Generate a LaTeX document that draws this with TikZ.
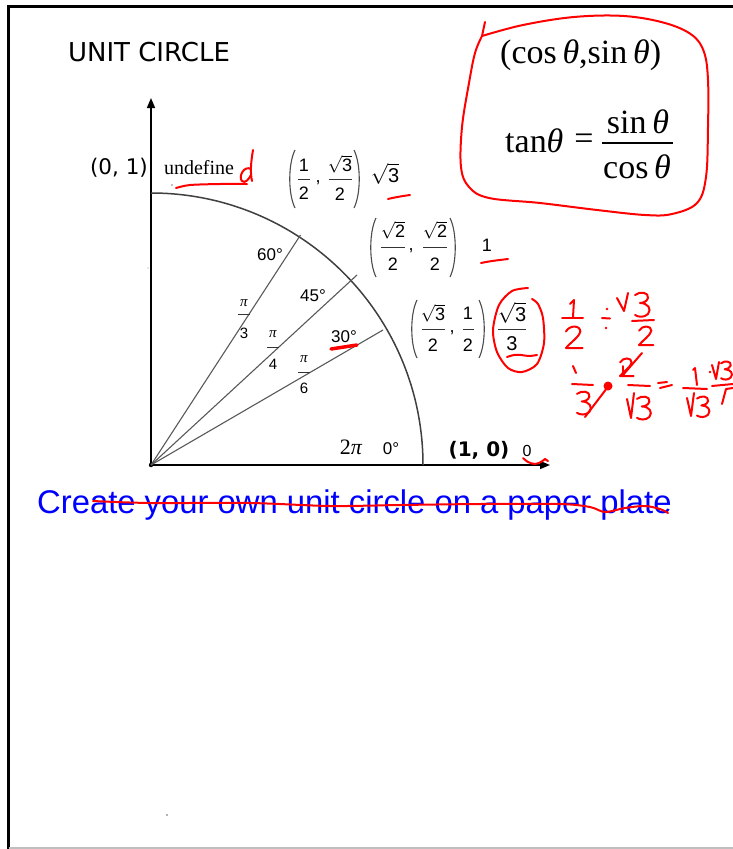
\documentclass[tikz,border=0pt]{standalone}
\usepackage{amsmath}
\usepackage{fontspec}
\setmainfont{Liberation Serif}
\newfontfamily\dvs{DejaVu Sans}
\newfontfamily\ari{Liberation Sans}
\usetikzlibrary{arrows.meta}
\newcommand\fs[1]{\fontsize{#1}{#1}\selectfont}
\newcommand\rt[1]{$\sqrt{\mbox{#1}}$}
\newcommand\pii{{\rmfamily\itshape π}}
% fraction: name, x, ybar, halfwidth, ynum, yden, num, den
\newcommand\ufr[8]{%
  \node[fr] (#1n) at (#2,#5) {#7};
  \node[fr] (#1d) at (#2,#6) {#8};
  \draw[frbar] (#2-#4,#3) -- (#2+#4,#3);}
\newcommand\lpar[3]{\draw[par] (#1+3,#2) .. controls (#1-4,#2+14) and (#1-4,#3-14) .. (#1+3,#3);}
\newcommand\rpar[3]{\draw[par] (#1-3,#2) .. controls (#1+4,#2+14) and (#1+4,#3-14) .. (#1-3,#3);}
% handwritten digits, top-left at (#1,#2), scale #3
\newcommand\hthree[3]{\begin{scope}[shift={(#1,#2)},scale=#3]
  \draw[pen] (0,3) .. controls (5,-1) and (14,0) .. (13,6) .. controls (12,10) and (7,11) .. (5,11)
    .. controls (13,11) and (17,17) .. (13,22) .. controls (9,26) and (3,25) .. (0,23);\end{scope}}
\newcommand\htwo[3]{\begin{scope}[shift={(#1,#2)},scale=#3]
  \draw[pen] (0,5) .. controls (3,-1) and (13,-1) .. (13,5) .. controls (12,10) and (4,15) .. (0,20) -- (15,20);\end{scope}}
\tikzset{
  pen/.style={draw=red, line width=2pt, line cap=round, line join=round},
  fr/.style={inner sep=0pt, font=\ari\fs{18}},
  frbar/.style={line width=0.9pt, draw=black!80},
  par/.style={line width=1.1pt, draw=black!70},
  axisline/.style={line width=1.5pt, draw=black, -{Triangle[length=10pt,width=8pt]}},
  ray/.style={line width=1.1pt, draw=black!65},
  deg/.style={inner sep=0pt, font=\ari\fs{17}},
  bigm/.style={inner sep=0pt, font=\fs{34}},
}
\begin{document}
\begin{tikzpicture}[x=1pt,y=-1pt, every node/.style={inner sep=0pt}]
\useasboundingbox (0,0) rectangle (733,849);
\fill[white] (0,0) rectangle (733,849);
% frame
\draw[line width=2.8pt, line cap=rect] (8.5,849) -- (8.5,6.5) -- (733,6.5);
\draw[black!25, line width=1.5pt] (8.5,848) -- (733,848);

% title
\node[font=\dvs\fs{26}] (title) at (149,52) {UNIT CIRCLE};

% axes
\coordinate (O) at (151,465);
\coordinate (ytip) at (151,98);
\coordinate (xtip) at (550,465);
\draw[axisline] (O) -- (ytip);
\draw[axisline] (O) -- (xtip);
\fill (O) circle (2.2);
% arc
\draw[line width=1.5pt, draw=black!75] (151,193) arc[start angle=90, end angle=0, radius=272pt];
% rays
\coordinate (r60) at (300.5,235);
\coordinate (r45) at (357,275);
\coordinate (r30) at (383,330);
\draw[ray] (O) -- (r60);
\draw[ray] (O) -- (r45);
\draw[ray] (O) -- (r30);

% axis labels
\node[font=\dvs\fs{21.5}] (p01) at (119,168) {(0, 1)};
\node[font=\fs{20}] (undef) at (199,168) {undefine};
\node[font=\dvs\bfseries\fs{20}] (p10) at (479,450) {(1, 0)};
\node[font=\ari\fs{16}] (zero) at (527,451) {0};
\node[font=\fs{22}] (twopi) at (351,447) {2\pii};
\node[deg] (d0) at (391,449) {0°};
\node[deg] (d60) at (270,255) {60°};
\node[deg] (d45) at (313,296) {45°};
\node[deg] (d30) at (344,337) {30°};

% pi fractions
\begin{scope}[fr/.style={inner sep=0pt, font=\ari\fs{15}}]
\ufr{pa}{244}{314}{6}{303}{333}{\pii}{3}
\ufr{pb}{273}{347}{6}{334}{364}{\pii}{4}
\ufr{pc}{304}{372}{6}{359}{388}{\pii}{6}
\end{scope}

% (1/2, sqrt3/2)
\lpar{292}{150}{208}
\ufr{fa}{304}{179}{6}{165}{193}{1}{2}
\node[fr] (ca) at (318,183) {,};
\ufr{fb}{340}{179}{11.5}{164}{194}{\rt{3}}{2}
\rpar{357}{150}{208}
\node[font=\ari\fs{20}] (t60) at (385,174) {\rt{3}};

% (sqrt2/2, sqrt2/2)
\lpar{373}{218}{277}
\ufr{fc}{393}{247}{12}{230}{264}{\rt{2}}{2}
\node[fr] (cb) at (411,251) {,};
\ufr{fd}{435}{247}{12}{230}{264}{\rt{2}}{2}
\rpar{453}{218}{277}
\node[fr] (t45) at (487,245) {1};

% (sqrt3/2, 1/2)
\lpar{414}{300}{358}
\ufr{fe}{433}{329}{11.5}{313}{345}{\rt{3}}{2}
\node[fr] (cc) at (452,333) {,};
\ufr{ff}{468}{329}{5.5}{313}{345}{1}{2}
\rpar{482}{300}{358}
\begin{scope}[fr/.style={inner sep=0pt, font=\ari\fs{20}}]
\ufr{fg}{512}{329}{14}{313}{344}{\rt{3}}{3}
\end{scope}

% tiny specks
\fill[black!50] (172,185) circle (0.8);
\fill[black!40] (148,268) circle (0.7);
\fill[black!60] (167,815) circle (0.9);

% red box with formulas
\node[bigm, anchor=base west] (cs) at (500,63) {(cos\,\textit{θ},sin\,\textit{θ})};
\node[bigm, anchor=base west] (tan) at (505,152) {tan\textit{θ}};
\node[bigm] (eq) at (584,142) {=};
\node[bigm, anchor=base] (num) at (638,133) {sin\,\textit{θ}};
\node[bigm, anchor=base] (den) at (637,178) {cos\,\textit{θ}};
\draw[line width=1.3pt] (602,143) -- (673,143);
\draw[pen] (485,22) -- (482,36);
\draw[pen] plot[smooth, tension=0.6] coordinates {(482,36)(523,25)(574,17)(624,16)(665,23)(692,35)(704,52)(708,80)(708,127)(706,177)(697,203)(672,214)(645,215)(597,210)(540,203)(489,198)(469,187)(461,167)(462,127)(469,83)(475,53)(482,36)};

% red annotations on the circle
\draw[pen] plot[smooth] coordinates {(176,188)(190,185)(220,184)(247,184)};
\draw[pen] (253,150) .. controls (251,162) and (250,172) .. (252,181);
\draw[pen] (251,169) .. controls (244,165) and (238,177) .. (242,181) .. controls (245,184) and (249,179) .. (251,175);
\draw[pen] (388,199) .. controls (396,197) and (403,196) .. (410,195);
\draw[pen] (481,263) .. controls (490,261) and (500,260) .. (508,259);
\draw[pen, line width=3.5pt] (331,349) -- (357,345);
\draw[pen] plot[smooth] coordinates {(523,458)(528,462)(535,464)(541,462)(545,459)};
\draw[pen] (545,459) -- (548,461);
\draw[pen] plot[smooth] coordinates {(528,288)(512,291)(499,305)(493,330)(497,352)(508,368)(522,372)(537,364)(544,343)(543,318)(538,304)(532,299)};
\draw[pen] plot[smooth] coordinates {(507,357)(514,355)(521,355)(529,356)(537,355)};

% handwritten working
\draw[pen] (570,304) -- (574,300) -- (573,317);
\draw[pen] (562,318) -- (583,318);
\htwo{566}{326}{1.1}
\fill[red] (607,309) circle (1.4);
\draw[pen] (602,318) -- (610,318.5);
\fill[red] (606,328) circle (1.4);
\draw[pen] (617,298) -- (624,311) -- (628,293);
\hthree{635}{292}{1.0}
\draw[pen] (632,321) -- (654,320);
\htwo{639}{326}{0.95}

\draw[pen] (573,366) -- (576,373);
\draw[pen] (572,384) -- (593,385);
\hthree{577}{391}{0.95}
\draw[pen] (585,417) -- (607,388);
\fill[red] (608,386) circle (4.5);
\htwo{620}{358}{0.9}
\draw[pen] (642,353) -- (623,375);
\draw[pen] (623,366) -- (623,375);
\draw[pen] (628,385) -- (650,386);
\draw[pen] (627,399) -- (631,418) -- (634,393);
\hthree{637}{396}{0.95}
\draw[pen] (658,383) -- (667,382);
\draw[pen] (660,388) -- (672,385);
\draw[pen] (693,370) -- (695,368) -- (697,385);
\draw[pen] (683,388) -- (707,389);
\draw[pen] (687,398) -- (691,416) -- (694,393);
\hthree{697}{396}{0.85}
\fill[red] (710,372) circle (1.3);
\draw[pen] (712,365) -- (716,379) -- (719,362);
\hthree{721}{361}{0.75}
\draw[pen] (712,386) -- (733,384);
\draw[pen] (722,404) -- (726,389) -- (733,388);

% blue text and strike-through
\node[font=\ari\fs{32.8}, text=blue, anchor=west] (create) at (37,505) {Create your own unit circle on a paper plate};
\draw[pen] plot[smooth] coordinates {(93,501)(150,503)(250,503)(330,506)(400,505)(480,504)(560,504)(590,507)(605,512)(625,508)(645,506)(660,509)(668,513)};
\end{tikzpicture}
\end{document}
